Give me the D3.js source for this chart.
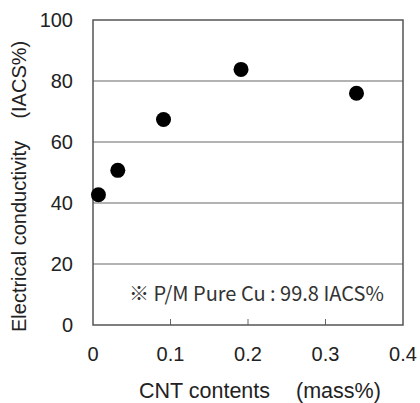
<!doctype html>
<html>
<head>
<style>
  * { margin: 0; padding: 0; }
  body { background: #fff; width: 420px; height: 403px; overflow: hidden; }
  text { font-family: "Liberation Sans", Arial, sans-serif; fill: #222; }
</style>
</head>
<body>
<div id="chart"></div>
<script src="https://cdnjs.cloudflare.com/ajax/libs/d3/7.8.5/d3.min.js"></script>
<script>
// CNT content (mass%) vs conductivity (IACS%)
var cntContents = [0.007, 0.032, 0.091, 0.191, 0.340];
var conductivity = [42.7, 50.7, 67.4, 83.8, 76.0];
var xTicks = [0, 0.1, 0.2, 0.3, 0.4];
var yTicks = [0, 20, 40, 60, 80, 100];
var xTitle = ['CNT contents', '(mass%)'];
var yTitle = 'Electrical conductivity\u00a0\u00a0\u00a0\u00a0(IACS%)';
var note = '\u203b P/M Pure Cu : 99.8 IACS%';

var width = 420, height = 403;
var plotLeft = 93, plotRight = 403, plotTop = 20, plotBottom = 325;

var svg = d3.select('#chart').append('svg')
  .attr('width', width).attr('height', height);

var x = d3.scaleLinear().domain([0, 0.4]).range([plotLeft, plotRight]);
var y = d3.scaleLinear().domain([0, 100]).range([plotBottom, plotTop]);

// gridlines
svg.append('g').selectAll('line')
  .data(yTicks.filter(function(d){ return d > 0 && d < 100 }))
  .enter().append('line')
  .attr('x1', plotLeft).attr('x2', plotRight)
  .attr('y1', function(d){ return y(d) }).attr('y2', function(d){ return y(d) })
  .attr('stroke', '#9a9a9a').attr('stroke-width', 1.5);

// small inner ticks on x axis
svg.append('g').selectAll('line')
  .data(xTicks.filter(function(d){ return d > 0 && d < 0.4 }))
  .enter().append('line')
  .attr('x1', function(d){ return x(d) }).attr('x2', function(d){ return x(d) })
  .attr('y1', plotBottom).attr('y2', plotBottom - 6)
  .attr('stroke', '#666').attr('stroke-width', 1);

// frame
svg.append('rect')
  .attr('x', plotLeft).attr('y', plotTop)
  .attr('width', plotRight - plotLeft).attr('height', plotBottom - plotTop)
  .attr('fill', 'none').attr('stroke', '#555').attr('stroke-width', 1.5);

// tick labels
svg.append('g').selectAll('text')
  .data(yTicks).enter().append('text')
  .attr('x', 73).attr('y', function(d){ return y(d) + 7 })
  .attr('text-anchor', 'end').style('font-size', '20px')
  .text(function(d){ return d });

svg.append('g').selectAll('text')
  .data(xTicks).enter().append('text')
  .attr('x', function(d){ return x(d) }).attr('y', 361)
  .attr('text-anchor', 'middle').style('font-size', '20px')
  .text(function(d){ return d === 0 ? '0' : d3.format('.1f')(d) });

// axis titles
svg.append('text').attr('x', 139).attr('y', 398)
  .style('font-size', '21.5px').text(xTitle[0]);
svg.append('text').attr('x', 296).attr('y', 398)
  .style('font-size', '21.5px').text(xTitle[1]);

svg.append('text')
  .attr('transform', 'translate(26,332) rotate(-90)')
  .style('font-size', '20px').text(yTitle);

// note
svg.append('text').attr('x', 129).attr('y', 301)
  .style('font-family', '"Noto Sans CJK JP", "Open Sans", sans-serif')
  .style('font-size', '20px').style('fill', '#333')
  .text(note);

// points
svg.append('g').selectAll('circle')
  .data(cntContents).enter().append('circle')
  .attr('cx', function(d){ return x(d) })
  .attr('cy', function(d, i){ return y(conductivity[i]) })
  .attr('r', 7.5)
  .attr('fill', '#000');
</script>
</body>
</html>
